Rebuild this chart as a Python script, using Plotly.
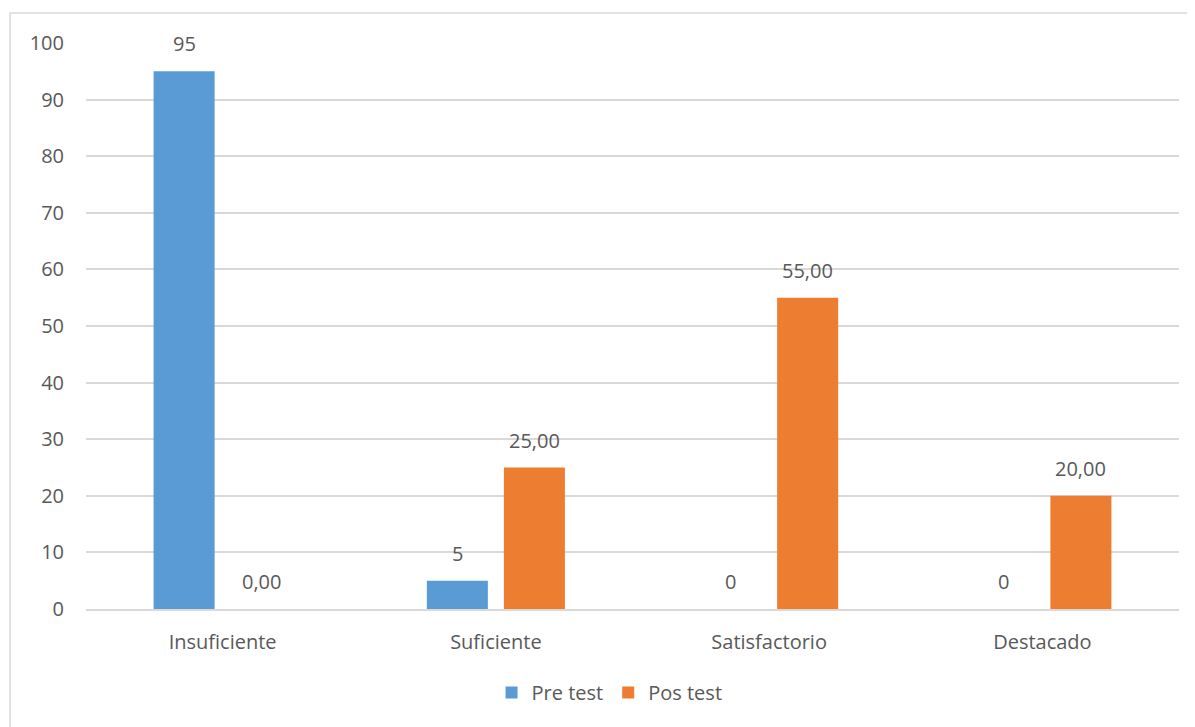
import plotly.graph_objects as go

categories = ["Insuficiente", "Suficiente", "Satisfactorio", "Destacado"]
pre_test = [95, 5, 0, 0]
pos_test = [0.00, 25.00, 55.00, 20.00]
pre_labels = ["95", "5", "0", "0"]
pos_labels = ["0,00", "25,00", "55,00", "20,00"]
y_ticks = [0, 10, 20, 30, 40, 50, 60, 70, 80, 90, 100]

BLUE = "#5B9BD5"
ORANGE = "#ED7D31"
TXT = "#595959"
GRID = "#D9D9D9"
FONT = "Open Sans"
FS = 20

fig = go.Figure()
fig.add_trace(go.Bar(name="Pre test", x=categories, y=pre_test, marker_color=BLUE,
                     marker_line_width=0))
fig.add_trace(go.Bar(name="Pos test", x=categories, y=pos_test, marker_color=ORANGE,
                     marker_line_width=0))

annotations = []
for cat, v, lab in zip(categories, pre_test, pre_labels):
    annotations.append(dict(x=cat, y=v, text=lab, showarrow=False, xshift=-38.5,
                            yanchor="bottom", yshift=12, font=dict(size=FS, color=TXT, family=FONT)))
for cat, v, lab in zip(categories, pos_test, pos_labels):
    annotations.append(dict(x=cat, y=v, text=lab, showarrow=False, xshift=38.5,
                            yanchor="bottom", yshift=12, font=dict(size=FS, color=TXT, family=FONT)))

fig.update_layout(
    width=1195, height=727,
    margin=dict(l=78, r=24, t=35, b=126),
    paper_bgcolor="white", plot_bgcolor="white",
    barmode="group", bargap=0.436, bargroupgap=0.208,
    font=dict(family=FONT, size=FS, color=TXT),
    showlegend=True,
    legend=dict(orientation="h", x=0.479, xanchor="center", y=-0.113, yanchor="top",
                font=dict(size=FS, color=TXT), itemwidth=30, traceorder="normal"),
    annotations=annotations,
    shapes=[dict(type="rect", xref="paper", yref="paper", x0=-0.0695, x1=1.05,
                 y0=-0.5, y1=1.053, line=dict(color=GRID, width=1.5), layer="below")],
)
fig.update_yaxes(range=[0, 100], tickvals=y_ticks, showgrid=True, gridcolor=GRID, gridwidth=1.5,
                 zeroline=False, showline=False, ticklabelstandoff=21,
                 tickfont=dict(size=FS, color=TXT, family=FONT))
fig.update_xaxes(showline=True, linecolor=GRID, linewidth=1.5, ticks="",
                 ticklabelstandoff=14, tickfont=dict(size=FS, color=TXT, family=FONT))

fig.write_html("out.html")
